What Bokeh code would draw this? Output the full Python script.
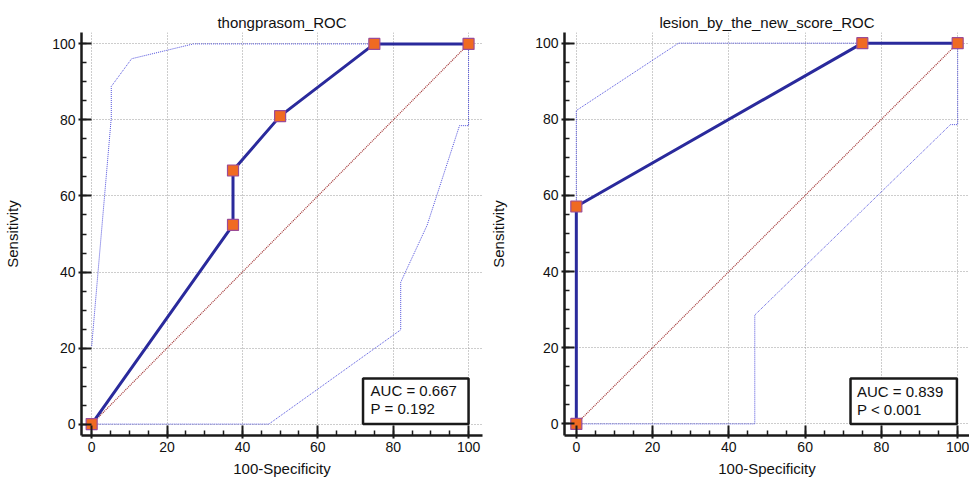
from bokeh.plotting import figure
from bokeh.layouts import row
from bokeh.models import Range1d, SingleIntervalTicker, BoxAnnotation, Label
from bokeh.embed import file_html
from bokeh.resources import INLINE

# ---- data ----
left_title = "thongprasom_ROC"
left_roc_x = [0, 37.5, 37.5, 50, 75, 100]
left_roc_y = [0, 52.4, 66.7, 81.0, 100, 100]
left_upper_x = [0, 5.2, 5.2, 10.6, 27, 100]
left_upper_y = [20.5, 80.6, 88.8, 96.1, 100, 100]
left_lower_x = [0, 47, 82, 82, 89, 97.6, 100, 100]
left_lower_y = [0, 0, 24.8, 37.3, 52.3, 78.5, 78.5, 100]
left_auc = "AUC = 0.667"
left_p = "P = 0.192"

right_title = "lesion_by_the_new_score_ROC"
right_roc_x = [0, 0, 75, 100]
right_roc_y = [0, 57.1, 100, 100]
right_upper_x = [0, 0, 26.8, 100]
right_upper_y = [0, 82.3, 100, 100]
right_lower_x = [0, 46.8, 46.8, 98.1, 100, 100]
right_lower_y = [0, 0, 28.6, 78.6, 78.6, 100]
right_auc = "AUC = 0.839"
right_p = "P < 0.001"

diag_x = [0, 100]
diag_y = [0, 100]

FONT = "Liberation Sans"


def make_panel(title, roc_x, roc_y, up_x, up_y, lo_x, lo_y, auc, pval,
               width, bl, br, xr, yr, box, txt, ylab_standoff):
    p = figure(width=width, height=481, output_backend="svg", toolbar_location=None,
               x_range=Range1d(*xr), y_range=Range1d(*yr),
               min_border_left=bl, min_border_right=br, min_border_top=32,
               min_border_bottom=46, title=title)
    p.outline_line_color = None
    p.background_fill_color = "white"
    p.border_fill_color = "white"
    p.title.align = "center"
    p.title.text_font = FONT
    p.title.text_font_size = "15px"
    p.title.text_font_style = "normal"
    p.title.text_color = "#111111"
    p.title.standoff = 3

    for ax in (p.xaxis[0], p.yaxis[0]):
        ax.ticker = SingleIntervalTicker(interval=20, num_minor_ticks=4)
        ax.axis_line_color = "#1a1a1a"
        ax.axis_line_width = 2.5
        ax.major_tick_line_color = "#1a1a1a"
        ax.major_tick_line_width = 2
        ax.major_tick_in = 10
        ax.major_tick_out = 3
        ax.minor_tick_line_color = "#1a1a1a"
        ax.minor_tick_line_width = 1.5
        ax.minor_tick_in = 5
        ax.minor_tick_out = 0
        ax.major_label_text_font = FONT
        ax.major_label_text_font_size = "14px"
        ax.major_label_text_color = "#111111"
        ax.axis_label_text_font = FONT
        ax.axis_label_text_font_size = "15px"
        ax.axis_label_text_font_style = "normal"
        ax.axis_label_text_color = "#111111"
        ax.major_label_standoff = 3
    p.xaxis.axis_label = "100-Specificity"
    p.yaxis.axis_label = "Sensitivity"
    p.xaxis.axis_label_standoff = 5
    p.yaxis.axis_label_standoff = ylab_standoff

    for g in (p.xgrid[0], p.ygrid[0]):
        g.ticker = SingleIntervalTicker(interval=20)
        g.grid_line_color = "#9a9a9a"
        g.grid_line_dash = "1 2"
        g.grid_line_width = 1

    p.line(diag_x, diag_y, line_color="#a03030", line_width=1.2, line_dash="1 1")
    p.line(up_x, up_y, line_color="#5050dc", line_width=1, line_dash="1 1")
    p.line(lo_x, lo_y, line_color="#5050dc", line_width=1, line_dash="1 1")
    p.line(roc_x, roc_y, line_color="#2a2a9c", line_width=3)
    p.scatter(roc_x, roc_y, marker="square", size=11, fill_color="#f06a22",
              line_color="#9c4c96", line_width=1.2)

    p.add_layout(BoxAnnotation(left=box[0], right=box[1], bottom=box[2], top=box[3],
                               fill_color="white", fill_alpha=1.0,
                               line_color="#1a1a1a", line_width=2.5, line_alpha=1.0))
    p.add_layout(Label(x=txt[0], y=txt[1], text=auc, text_font=FONT,
                       text_font_size="15px", text_baseline="middle", text_color="#111111"))
    p.add_layout(Label(x=txt[0], y=txt[2], text=pval, text_font=FONT,
                       text_font_size="15px", text_baseline="middle", text_color="#111111"))
    return p


p1 = make_panel(left_title, left_roc_x, left_roc_y, left_upper_x, left_upper_y,
                left_lower_x, left_lower_y, left_auc, left_p,
                width=484, bl=81, br=2, xr=(-2.7, 103.7), yr=(-3.0, 103.0),
                box=(72, 100, 0, 12.0), txt=(74.0, 8.9, 4.2), ylab_standoff=28)
p2 = make_panel(right_title, right_roc_x, right_roc_y, right_upper_x, right_upper_y,
                right_lower_x, right_lower_y, right_auc, right_p,
                width=485, bl=80, br=0, xr=(-3.1, 103.1), yr=(-3.05, 102.8),
                box=(71.9, 99.8, 0, 11.9), txt=(73.6, 8.5, 3.9), ylab_standoff=25)

layout = row(p1, p2, spacing=0)
open("out.html", "w").write(file_html(layout, INLINE))
